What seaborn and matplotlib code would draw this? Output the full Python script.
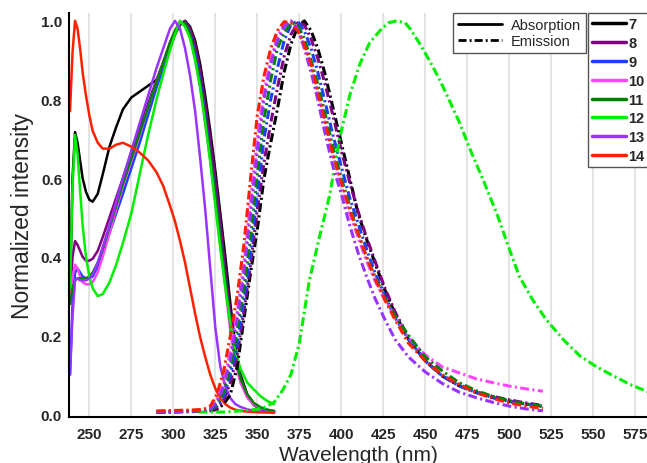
import numpy as np
import pandas as pd
import matplotlib
matplotlib.use("Agg")
import matplotlib.pyplot as plt
from matplotlib.lines import Line2D
import seaborn as sns

compounds = ["7", "8", "9", "10", "11", "12", "13", "14"]
colors = ["#000000", "#800080", "#1f3fff", "#ff44ff", "#008000", "#00ee00", "#9933ff", "#ff2000"]

# absorption spectra, shared wavelength grid (nm)
abs_nm = [238.5, 240, 241.5, 243, 244.5, 246, 248, 250, 252, 255,
          258, 262, 266, 270, 275, 280, 285, 290, 294, 298,
          301, 304, 307, 310, 313, 316, 319, 322, 325, 328,
          331, 334, 337, 340, 344, 348, 352, 356, 360]
abs_7 = [.30, .60, .717, .69, .645, .60, .565, .545, .54, .56,
         .61, .68, .73, .775, .805, .82, .835, .85, .88, .93,
         .965, .99, 1.0, .985, .95, .89, .81, .72, .62, .51,
         .40, .28, .17, .10, .05, .025, .014, .009, .006]
abs_8 = [.28, .40, .44, .43, .415, .40, .39, .39, .395, .415,
         .45, .50, .55, .60, .665, .73, .79, .85, .895, .94,
         .97, .99, 1.0, .98, .94, .875, .79, .70, .60, .49,
         .37, .255, .155, .09, .045, .022, .012, .008, .005]
abs_9 = [.10, .28, .36, .37, .36, .35, .345, .345, .35, .375,
         .41, .46, .51, .56, .625, .69, .76, .83, .88, .935,
         .97, .995, .995, .97, .92, .85, .76, .66, .56, .45,
         .335, .225, .14, .085, .045, .025, .015, .01, .007]
abs_10 = [.30, .35, .38, .37, .35, .335, .33, .33, .335, .36,
          .40, .46, .52, .58, .645, .71, .78, .845, .895, .945,
          .975, 1.0, .99, .96, .90, .83, .74, .645, .54, .43,
          .32, .21, .13, .08, .042, .024, .015, .01, .007]
abs_11 = [.28, .32, .34, .345, .345, .345, .345, .35, .36, .385,
          .42, .475, .53, .585, .65, .715, .78, .845, .895, .945,
          .975, .995, .995, .965, .91, .84, .75, .655, .555, .445,
          .335, .225, .145, .09, .05, .028, .017, .011, .008]
abs_12 = [.32, .58, .71, .66, .57, .48, .40, .35, .32, .30,
          .305, .335, .38, .435, .51, .61, .71, .80, .865, .925,
          .965, 1.0, .985, .955, .90, .83, .74, .64, .53, .42,
          .32, .23, .16, .115, .08, .062, .045, .033, .025]
abs_13 = [.10, .25, .34, .345, .34, .34, .34, .345, .355, .385,
          .425, .48, .54, .60, .67, .74, .81, .88, .93, .98,
          1.0, .98, .93, .86, .77, .65, .52, .37, .22, .12,
          .07, .04, .025, .018, .012, .008, .006, .005, .004]
abs_14 = [.77, .92, 1.0, .98, .93, .87, .81, .76, .72, .69,
          .675, .675, .685, .69, .68, .665, .645, .615, .58, .53,
          .49, .44, .385, .32, .255, .195, .145, .10, .065, .04,
          .025, .016, .011, .008, .006, .005, .004, .004, .003]

# emission spectra
em_nm = [290, 300, 310, 318, 322, 326, 330, 334, 338, 342,
         346, 350, 354, 358, 362, 366, 370, 374, 378, 382,
         386, 390, 395, 400, 405, 410, 415, 420, 426, 432,
         440, 450, 460, 470, 480, 490, 500, 510, 520]
em_7 = [.004, .005, .006, .007, .008, .012, .025, .05, .12, .24,
        .36, .47, .60, .69, .776, .87, .94, .985, 1.0, .975,
        .93, .87, .78, .69, .60, .51, .445, .385, .315, .255,
        .19, .135, .097, .072, .055, .042, .032, .025, .02]
em_8 = [.005, .006, .007, .008, .01, .015, .035, .08, .15, .26,
        .38, .52, .64, .74, .83, .91, .965, .995, .99, .955,
        .905, .845, .76, .67, .59, .515, .45, .39, .32, .26,
        .195, .138, .098, .074, .057, .045, .036, .028, .022]
em_9 = [.005, .006, .007, .008, .012, .02, .045, .10, .18, .29,
        .41, .56, .70, .80, .88, .95, .99, 1.0, .975, .93,
        .87, .80, .71, .63, .55, .485, .42, .36, .30, .245,
        .19, .135, .097, .072, .055, .042, .032, .025, .019]
em_10 = [.006, .007, .008, .01, .015, .035, .08, .16, .26, .38,
         .54, .70, .82, .90, .96, .99, 1.0, .98, .94, .89,
         .82, .75, .66, .58, .51, .45, .39, .34, .29, .25,
         .195, .15, .12, .105, .09, .08, .071, .064, .058]
em_11 = [.005, .006, .007, .008, .012, .025, .055, .12, .21, .32,
         .45, .61, .75, .85, .93, .97, .995, .99, .955, .90,
         .84, .77, .68, .60, .53, .46, .40, .35, .295, .25,
         .20, .145, .11, .08, .06, .045, .034, .026, .02]
em_13 = [.005, .006, .007, .009, .013, .03, .07, .14, .24, .36,
         .51, .67, .80, .89, .95, .985, 1.0, .98, .93, .87,
         .80, .72, .63, .56, .48, .41, .35, .295, .24, .19,
         .145, .107, .078, .056, .042, .03, .02, .013, .008]
em_14 = [.008, .009, .01, .012, .02, .05, .11, .20, .30, .43,
         .60, .76, .86, .93, .975, .998, .995, .975, .94, .89,
         .82, .75, .66, .59, .52, .46, .40, .345, .29, .24,
         .18, .135, .10, .076, .055, .04, .028, .02, .014]
# compound 12 emits much further red
em12_nm = [315, 330, 340, 350, 355, 360, 365, 370, 375, 381,
           387, 393, 399, 405, 411, 417, 423, 428, 433, 438,
           441, 447, 453, 458, 463, 470, 477, 485, 493, 500,
           506, 514, 522, 532, 542, 552, 562, 572, 584]
em_12 = [.005, .005, .008, .012, .018, .03, .06, .10, .18, .34,
         .45, .555, .70, .81, .89, .945, .975, .995, 1.0, .995,
         .98, .94, .895, .855, .81, .745, .67, .59, .505, .42,
         .35, .29, .24, .19, .148, .12, .097, .075, .054]

absorption = [abs_7, abs_8, abs_9, abs_10, abs_11, abs_12, abs_13, abs_14]
emission = [em_7, em_8, em_9, em_10, em_11, em_12, em_13, em_14]

rows = []
for c, a, e in zip(compounds, absorption, emission):
    for x, y in zip(abs_nm, a):
        rows.append((c, "Absorption", x, y))
    ex = em12_nm if c == "12" else em_nm
    for x, y in zip(ex, e):
        rows.append((c, "Emission", x, y))
df = pd.DataFrame(rows, columns=["compound", "kind", "nm", "intensity"])

sns.set_style("white")
plt.rcParams["font.family"] = ["Liberation Sans", "DejaVu Sans"]

fig = plt.figure(figsize=(6.47, 4.64), dpi=100)
ax = fig.add_axes([69 / 647, 1 - 418 / 464, 1 - 69 / 647, 404 / 464])

dashdot = (0, (2.9, 1.1, 0.7, 1.1))
pal = dict(zip(compounds, colors))
for c in compounds:
    sub = df[(df.compound == c) & (df.kind == "Absorption")]
    sns.lineplot(data=sub, x="nm", y="intensity", color=pal[c], lw=1.8,
                 sort=False, estimator=None, legend=False, ax=ax)
for c in compounds:
    sub = df[(df.compound == c) & (df.kind == "Emission")]
    sns.lineplot(data=sub, x="nm", y="intensity", color=pal[c], lw=2.2,
                 linestyle=dashdot, sort=False, estimator=None, legend=False, ax=ax)

ax.set_xlim(237.9, 582)
ax.set_ylim(-0.0076, 1.02)
ax.set_xticks(range(250, 576, 25))
ax.set_yticks([0, 0.2, 0.4, 0.6, 0.8, 1.0])
ax.set_yticklabels([f"{v:.1f}" for v in [0, 0.2, 0.4, 0.6, 0.8, 1.0]])
ax.xaxis.grid(True, color="#e2e2e2", lw=1.3)
ax.yaxis.grid(False)
ax.set_axisbelow(True)
for s in ["top", "right"]:
    ax.spines[s].set_visible(False)
for s in ["left", "bottom"]:
    ax.spines[s].set_color("black")
    ax.spines[s].set_linewidth(1.5)
ax.tick_params(axis="both", length=0, labelsize=11)
ax.tick_params(axis="x", pad=7)
ax.tick_params(axis="y", pad=5)
for t in ax.get_xticklabels() + ax.get_yticklabels():
    t.set_fontweight("bold")
ax.set_xlabel("Wavelength (nm)", fontsize=15, labelpad=3)
ax.set_ylabel("Normalized intensity", fontsize=16.5, labelpad=5)

kind_handles = [Line2D([], [], color="black", lw=2),
                Line2D([], [], color="black", lw=2, linestyle=dashdot)]
leg1 = fig.legend(kind_handles, ["Absorption", "Emission"], loc="upper left",
                  bbox_to_anchor=(453 / 647, 1 - 14 / 464), fancybox=False,
                  edgecolor="#555555", framealpha=1, fontsize=10.5,
                  handlelength=3.0, handletextpad=0.6, borderpad=0.35,
                  labelspacing=0.15, borderaxespad=0)
leg1.get_frame().set_linewidth(1.0)

comp_handles = [Line2D([], [], color=col, lw=2.5) for col in colors]
leg2 = fig.legend(comp_handles, compounds, loc="upper left",
                  bbox_to_anchor=(588 / 647, 1 - 14 / 464), fancybox=False,
                  edgecolor="#555555", framealpha=1,
                  prop={"weight": "bold", "size": 10.5},
                  handlelength=2.3, handletextpad=0.15, borderpad=0.3,
                  labelspacing=0.33, borderaxespad=0)
leg2.get_frame().set_linewidth(1.0)

fig.savefig("out.png", dpi=100)
